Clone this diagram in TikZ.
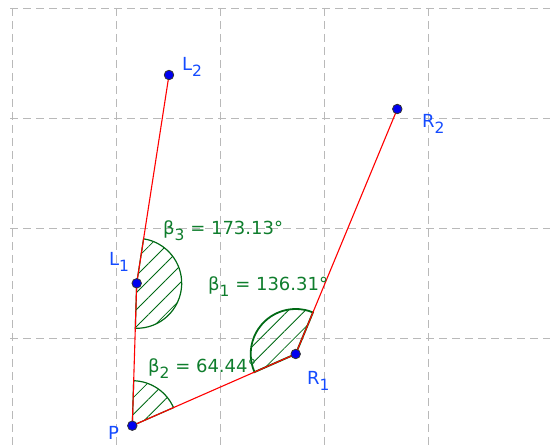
\documentclass[tikz,border=0pt]{standalone}
\usepackage{fontspec}
\setmainfont{DejaVu Sans}
\usetikzlibrary{patterns.meta}

\definecolor{gridgray}{RGB}{185,185,185}
\definecolor{segred}{RGB}{255,0,0}
\definecolor{angreen}{RGB}{0,105,20}
\definecolor{txtgreen}{RGB}{15,125,45}
\definecolor{ptblue}{RGB}{0,0,240}
\definecolor{lblblue}{RGB}{20,75,255}

\newcommand*{\xmin}{10}
\newcommand*{\xmax}{550}
\newcommand*{\ymin}{0}
\newcommand*{\ymax}{438}
\newcommand*{\lowidx}[1]{\raisebox{-5.5pt}{\fontsize{15.5}{15.5}\selectfont #1}}

\begin{document}
\begin{tikzpicture}
[
	x=1pt,
	y=1pt,
	point/.style={circle,draw=black!80,fill=ptblue,inner sep=0pt,minimum size=9.5pt,line width=0.8pt},
	ptlabel/.style={anchor=base west,inner sep=0pt,text=lblblue,font=\fontsize{18}{21}\selectfont},
	anglabel/.style={anchor=base west,inner sep=0pt,text=txtgreen,font=\fontsize{18}{21}\selectfont},
	sector/.style={draw=angreen,line width=1.2pt,pattern={Lines[angle=45,distance=12pt,line width=0.8pt]},pattern color=angreen},
	segment/.style={segred,line width=1.1pt}
]
	\useasboundingbox (0,0) rectangle (550,446);

	% grid
	\foreach \x in {12,116,...,428} {
		\draw[gridgray,line width=0.9pt,dash pattern=on 8pt off 5pt] (\x,\ymax) -- (\x,\ymin);
	}
	\foreach \y in {108,218,...,438} {
		\draw[gridgray,line width=0.9pt,dash pattern=on 8pt off 5pt] (\xmin,\y) -- (\xmax,\y);
	}

	% points
	\coordinate (P)  at (132.3, 20.3);
	\coordinate (L1) at (136.7,162.7);
	\coordinate (L2) at (169.0,371.0);
	\coordinate (R1) at (295.7, 92.0);
	\coordinate (R2) at (397.3,337.0);

	% angles
	\draw[sector] (P)  -- ++(23.69:45)  arc[start angle=23.69, end angle=88.23, radius=45] -- cycle;
	\draw[sector] (L1) -- ++(-91.77:45) arc[start angle=-91.77, end angle=81.19, radius=45] -- cycle;
	\draw[sector,line width=1.8pt] (R1) -- ++(67.47:45) arc[start angle=67.47, end angle=203.69, radius=45] -- cycle;

	% segments
	\draw[segment] (L2) -- (L1);
	\draw[segment] (L1) -- (P);
	\draw[segment] (P) -- (R1);
	\draw[segment] (R1) -- (R2);

	\foreach \p in {P,L1,L2,R1,R2} {
		\node[point] (\p dot) at (\p) {};
	}

	% labels
	\node[ptlabel] (P lbl)  at (108,  6) {P};
	\node[ptlabel] (L1 lbl) at (109,180) {L\lowidx{1}};
	\node[ptlabel] (L2 lbl) at (182,375) {L\lowidx{2}};
	\node[ptlabel] (R1 lbl) at (307, 61) {R\lowidx{1}};
	\node[ptlabel] (R2 lbl) at (422,318) {R\lowidx{2}};
	\node[anglabel] (b3 lbl) at (163,211) {β\lowidx{3} = 173.13°};
	\node[anglabel] (b1 lbl) at (208,155) {β\lowidx{1} = 136.31°};
	\node[anglabel] (b2 lbl) at (148, 73) {β\lowidx{2} = 64.44°};

\end{tikzpicture}
\end{document}
